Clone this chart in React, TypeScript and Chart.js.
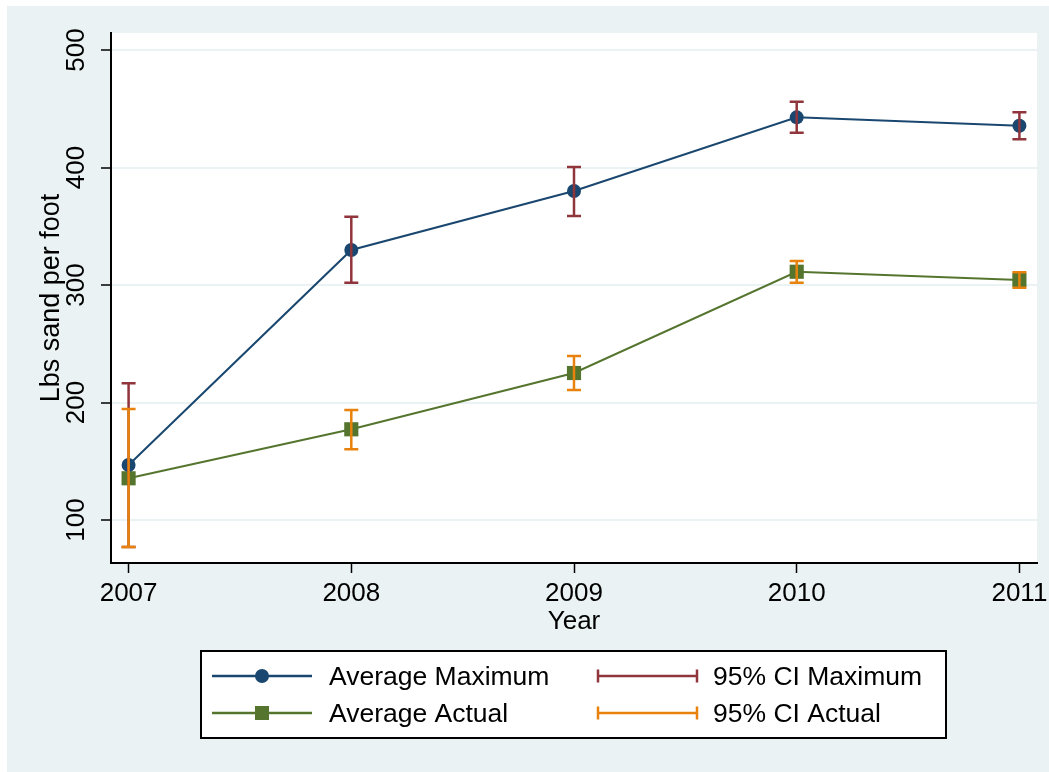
import React, { useEffect, useRef } from "react";
import { Chart, registerables } from "chart.js";

Chart.register(...registerables);

// ---- data ----
const years = [2007, 2008, 2009, 2010, 2011];
const avgMaximum = [146.8, 329.8, 380.0, 442.7, 435.6];
const ciMaxLow = [77.0, 302.0, 358.7, 429.6, 424.0];
const ciMaxHigh = [216.3, 358.1, 400.4, 456.0, 447.0];
const avgActual = [135.5, 177.2, 225.1, 311.3, 304.3];
const ciActLow = [77.0, 160.2, 210.6, 302.0, 297.7];
const ciActHigh = [194.5, 193.6, 239.6, 320.4, 310.8];
const yTicks = [100, 200, 300, 400, 500];
const seriesLabels = ["Average Maximum", "Average Actual", "95% CI Maximum", "95% CI Actual"];
const xTitle = "Year";
const yTitle = "Lbs sand per foot";

// ---- styles ----
const NAVY = "#1a476f";
const GREEN = "#55752f";
const MAROON = "#90353b";
const ORANGE = "#e8820c";
const BG = "#eaf2f3";
const FONT = '"Liberation Sans", Arial, Helvetica, sans-serif';

const W = 1049;
const H = 772;

const bgPlugin = {
  id: "bgPlugin",
  beforeDraw(chart: any) {
    const { ctx, chartArea } = chart;
    ctx.save();
    ctx.fillStyle = "#ffffff";
    ctx.fillRect(0, 0, W, H);
    ctx.fillStyle = BG;
    ctx.fillRect(7, 6, W - 7, H - 6);
    ctx.fillStyle = "#ffffff";
    ctx.fillRect(chartArea.left, chartArea.top, chartArea.right - chartArea.left, chartArea.bottom - chartArea.top);
    ctx.restore();
  },
};

function drawBars(chart: any, lows: number[], highs: number[], color: string) {
  const { ctx } = chart;
  const xs = chart.scales.x;
  const ys = chart.scales.y;
  ctx.save();
  ctx.strokeStyle = color;
  ctx.lineWidth = 2.5;
  ctx.lineCap = "butt";
  for (let i = 0; i < years.length; i++) {
    const px = xs.getPixelForValue(years[i]);
    const pLo = ys.getPixelForValue(lows[i]);
    const pHi = ys.getPixelForValue(highs[i]);
    ctx.beginPath();
    ctx.moveTo(px, pLo);
    ctx.lineTo(px, pHi);
    ctx.moveTo(px - 7, pLo);
    ctx.lineTo(px + 7, pLo);
    ctx.moveTo(px - 7, pHi);
    ctx.lineTo(px + 7, pHi);
    ctx.stroke();
  }
  ctx.restore();
}

const errorBarPlugin = {
  id: "errorBarPlugin",
  afterDatasetsDraw(chart: any) {
    drawBars(chart, ciMaxLow, ciMaxHigh, MAROON);
    drawBars(chart, ciActLow, ciActHigh, ORANGE);
  },
};

const legendPlugin = {
  id: "customLegend",
  afterDraw(chart: any) {
    const { ctx } = chart;
    ctx.save();
    ctx.fillStyle = "#ffffff";
    ctx.fillRect(201, 651, 745, 87);
    ctx.strokeStyle = "#000000";
    ctx.lineWidth = 2;
    ctx.strokeRect(201, 651, 745, 87);

    const rows = [676, 713];
    ctx.font = `26.5px ${FONT}`;
    ctx.textBaseline = "middle";
    ctx.textAlign = "left";

    const lineCols = [NAVY, GREEN];
    for (let r = 0; r < 2; r++) {
      const y = rows[r];
      ctx.strokeStyle = lineCols[r];
      ctx.lineWidth = 2.5;
      ctx.beginPath();
      ctx.moveTo(212, y);
      ctx.lineTo(312, y);
      ctx.stroke();
      ctx.fillStyle = lineCols[r];
      if (r === 0) {
        ctx.beginPath();
        ctx.arc(262, y, 7, 0, Math.PI * 2);
        ctx.fill();
      } else {
        ctx.fillRect(255, y - 7, 14, 14);
      }
      ctx.fillStyle = "#000000";
      ctx.fillText(seriesLabels[r], 329, y + 2);
    }
    const ciCols = [MAROON, ORANGE];
    for (let r = 0; r < 2; r++) {
      const y = rows[r];
      ctx.strokeStyle = ciCols[r];
      ctx.lineWidth = 2.5;
      ctx.beginPath();
      ctx.moveTo(598, y);
      ctx.lineTo(697, y);
      ctx.moveTo(598, y - 6.5);
      ctx.lineTo(598, y + 6.5);
      ctx.moveTo(697, y - 6.5);
      ctx.lineTo(697, y + 6.5);
      ctx.stroke();
      ctx.fillStyle = "#000000";
      ctx.fillText(seriesLabels[r + 2], 713, y + 2);
    }
    ctx.restore();
  },
};

export default function App() {
  const canvasRef = useRef<HTMLCanvasElement | null>(null);

  useEffect(() => {
    const canvas = canvasRef.current;
    if (!canvas) return;

    const maxPoints = years.map((yr, i) => ({ x: yr, y: avgMaximum[i] }));
    const actPoints = years.map((yr, i) => ({ x: yr, y: avgActual[i] }));

    const chart = new Chart(canvas, {
      type: "line",
      data: {
        datasets: [
          {
            label: seriesLabels[0],
            data: maxPoints,
            borderColor: NAVY,
            backgroundColor: NAVY,
            borderWidth: 2,
            pointStyle: "circle",
            pointRadius: 7,
            pointBorderWidth: 0,
            pointBackgroundColor: NAVY,
            tension: 0,
          },
          {
            label: seriesLabels[1],
            data: actPoints,
            borderColor: GREEN,
            backgroundColor: GREEN,
            borderWidth: 2,
            pointStyle: "rect",
            pointRadius: 10,
            pointBorderWidth: 0,
            pointBackgroundColor: GREEN,
            tension: 0,
          },
        ],
      },
      options: {
        animation: false,
        responsive: false,
        devicePixelRatio: 1,
        layout: { padding: { left: 0, top: 33, right: 12, bottom: 134 } },
        plugins: {
          legend: { display: false },
          tooltip: { enabled: false },
        },
        scales: {
          x: {
            type: "linear",
            min: 2006.921,
            max: 2011.079,
            afterBuildTicks: (scale: any) => {
              scale.ticks = years.map((v) => ({ value: v }));
            },
            afterFit: (scale: any) => {
              scale.height = 75;
              scale.paddingLeft = 0;
              scale.paddingRight = 0;
              scale.paddingTop = 0;
              scale.paddingBottom = 0;
            },
            grid: {
              drawOnChartArea: false,
              drawTicks: true,
              tickLength: 10,
              tickColor: "#000000",
              tickWidth: 1.5,
            },
            border: { display: true, color: "#000000", width: 2 },
            ticks: {
              font: { family: FONT, size: 26, lineHeight: 1.2 },
              color: "#000000",
              padding: 5,
              maxRotation: 0,
              minRotation: 0,
              autoSkip: false,
              callback: (v: any) => String(v),
            },
            title: {
              display: true,
              text: xTitle,
              font: { family: FONT, size: 26, lineHeight: 1.2 },
              color: "#000000",
              padding: { top: 0, bottom: 0.5 },
            },
          },
          y: {
            type: "linear",
            min: 63.4,
            max: 514.5,
            afterBuildTicks: (scale: any) => {
              scale.ticks = yTicks.map((v) => ({ value: v }));
            },
            afterFit: (scale: any) => {
              scale.width = 111;
              scale.paddingLeft = 0;
              scale.paddingRight = 0;
              scale.paddingTop = 0;
              scale.paddingBottom = 0;
            },
            grid: {
              color: BG,
              lineWidth: 2,
              drawTicks: true,
              tickLength: 10,
              tickColor: "#000000",
              tickWidth: 1.5,
            },
            border: { display: true, color: "#000000", width: 2 },
            ticks: {
              font: { family: FONT, size: 26, lineHeight: 1.2 },
              color: "#000000",
              padding: 2,
              minRotation: 90,
              maxRotation: 90,
              crossAlign: "center",
              autoSkip: false,
              callback: (v: any) => String(v),
            },
            title: {
              display: true,
              text: yTitle,
              font: { family: FONT, size: 27, lineHeight: 1.2 },
              color: "#000000",
              padding: { top: 35, bottom: 0 },
            },
          },
        },
      },
      plugins: [bgPlugin, errorBarPlugin, legendPlugin],
    } as any);

    return () => {
      chart.destroy();
    };
  }, []);

  return (
    <div style={{ position: "fixed", left: 0, top: 0, width: W, height: H }}>
      <canvas ref={canvasRef} width={W} height={H} style={{ display: "block" }} />
    </div>
  );
}
